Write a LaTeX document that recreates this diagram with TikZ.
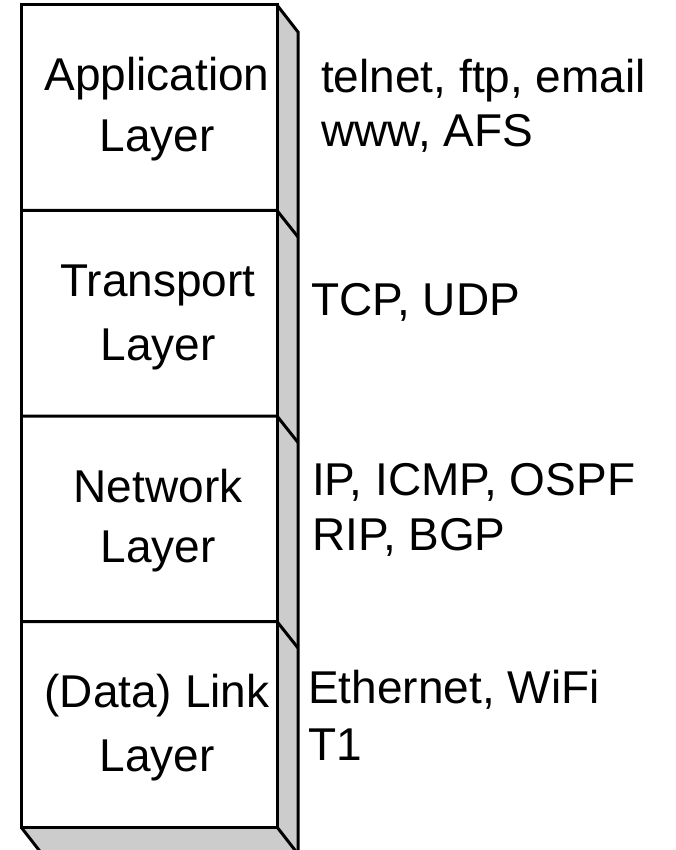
\documentclass[tikz,border=0pt]{standalone}
\usepackage{fontspec}
\setmainfont{Liberation Sans}
\definecolor{sidegray}{HTML}{CCCCCC}
\begin{document}
\begin{tikzpicture}[x=1pt,y=-1pt,
  edge/.style={line width=3pt,line join=miter},
  lbl/.style={anchor=base,inner sep=0pt,font=\fontsize{46}{55}\selectfont},
  prot/.style={anchor=base west,inner sep=0pt,font=\fontsize{46}{55}\selectfont}]
\useasboundingbox (0,0) rectangle (675,850);
\begin{scope}
\clip (0,0) rectangle (675,850);
% side and bottom faces
\coordinate (tl) at (21,5);
\coordinate (tr) at (277,5);
\coordinate (bl) at (21,827);
\coordinate (br) at (277,827);
\coordinate (trb) at (298,32);
\coordinate (brb) at (298,854);
\coordinate (blb) at (42,854);
\fill[sidegray] (tr) -- (trb) -- (brb) -- (br) -- cycle;
\fill[sidegray] (bl) -- (br) -- (brb) -- (blb) -- cycle;
\draw[edge] (tr) -- (trb) -- (brb);
\draw[edge] (bl) -- (blb);
\draw[edge] (br) -- (brb);
% front box
\draw[edge,fill=white] (tl) rectangle (br);
% dividers
\foreach \y in {210.5,416,621.5}{
  \draw[edge] (21,\y) -- (277,\y) -- (298,\y+26.5);
}
\end{scope}
% layer labels
\node[lbl] (app1) at (157,91) {Application};
\node[lbl] (app2) at (157,152) {Layer};
\node[lbl] (tr1) at (158,296) {Transport};
\node[lbl] (tr2) at (158,360) {Layer};
\node[lbl] (nw1) at (158,502) {Network};
\node[lbl] (nw2) at (158,562) {Layer};
\node[lbl] (dl1) at (157,707) {(Data) Link};
\node[lbl] (dl2) at (157,771) {Layer};
% protocols
\node[prot] (p1a) at (321,93) {telnet, ftp, email};
\node[prot] (p1b) at (321,147) {www, AFS};
\node[prot] (p2a) at (311,315) {TCP, UDP};
\node[prot] (p3a) at (312,495) {IP, ICMP, OSPF};
\node[prot] (p3b) at (312,550) {RIP, BGP};
\node[prot] (p4a) at (308,703) {Ethernet, WiFi};
\node[prot] (p4b) at (308,760) {T1};
\end{tikzpicture}
\end{document}
